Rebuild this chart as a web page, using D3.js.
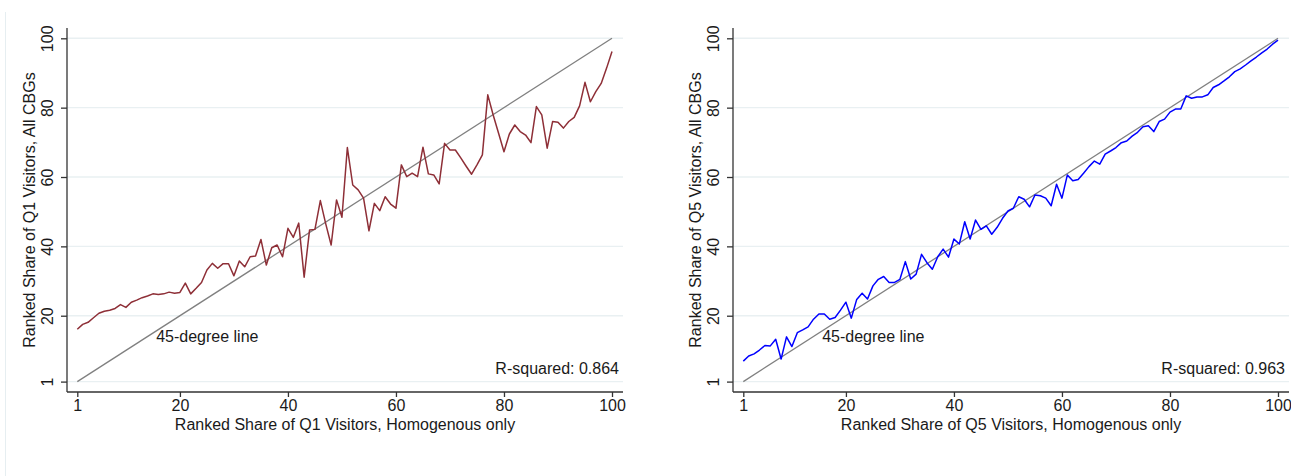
<!DOCTYPE html>
<html lang="en">

<head>
    <meta charset="UTF-8">
    <title>Ranked share of visitors: Q1 and Q5</title>
    <style>
        body {
            margin: 0;
            background: #ffffff;
        }

        text {
            font-family: "Liberation Sans", Arial, sans-serif;
            fill: #1a1a1a;
        }
    </style>
    <script src="https://cdn.jsdelivr.net/npm/d3@7"></script>
</head>

<body>
</body>

<script>
    // Tick labels shared by both panels (x and y)
    const tickValues = [1, 20, 40, 60, 80, 100];

    // Ranked share of Q1 visitors, all CBGs (rank 1..100 on x)
    const q1Values = [
        16.1, 17.5, 18.1, 19.4, 20.7, 21.3, 21.6, 22.1, 23.2, 22.4,
        23.9, 24.5, 25.2, 25.7, 26.3, 26.1, 26.3, 26.8, 26.5, 26.7,
        29.4, 26.3, 27.9, 29.6, 33.2, 35.1, 33.7, 35.0, 35.0, 31.5,
        35.8, 34.1, 37.0, 37.2, 42.0, 34.6, 39.6, 40.4, 37.0, 45.2,
        42.6, 46.7, 31.1, 44.7, 44.9, 53.2, 46.5, 40.4, 53.4, 48.4,
        68.5, 57.7, 56.3, 53.9, 44.5, 52.4, 50.3, 54.3, 52.2, 51.0,
        63.5, 60.1, 61.1, 60.1, 68.6, 60.9, 60.6, 58.0, 69.7, 67.8,
        67.8, 65.5, 63.1, 60.8, 63.5, 66.4, 83.7, 77.9, 72.6, 67.3,
        72.4, 75.0, 73.1, 72.1, 69.9, 80.3, 77.9, 68.3, 76.0, 75.8,
        74.1, 76.0, 77.2, 80.5, 87.3, 81.7, 84.6, 87.0, 91.4, 96.2
    ];

    // Ranked share of Q5 visitors, all CBGs
    const q5Values = [
        6.9, 8.4, 9.0, 10.1, 11.4, 11.3, 13.2, 7.5, 13.9, 11.1,
        15.1, 15.9, 16.8, 19.0, 20.5, 20.5, 19.0, 19.5, 21.6, 23.9,
        19.3, 24.7, 26.5, 24.8, 28.6, 30.5, 31.3, 29.6, 29.6, 30.5,
        35.6, 30.6, 32.0, 37.7, 35.3, 33.4, 37.0, 39.2, 36.9, 42.1,
        40.7, 47.1, 42.1, 47.6, 44.9, 45.9, 43.5, 45.5, 48.1, 50.2,
        51.0, 54.3, 53.6, 51.4, 54.8, 54.6, 53.9, 51.7, 57.9, 53.9,
        60.6, 58.9, 59.3, 61.1, 63.0, 64.6, 63.7, 66.6, 67.5, 68.5,
        69.9, 70.4, 71.8, 72.9, 74.5, 74.8, 73.1, 76.0, 76.7, 78.7,
        79.6, 79.6, 83.4, 82.7, 83.1, 83.1, 83.7, 85.8, 86.6, 87.7,
        88.9, 90.4, 91.2, 92.3, 93.5, 94.6, 95.8, 96.9, 98.3, 99.5
    ];

    // Panel labels
    const quintiles = ["Q1", "Q5"];
    const rSquared = ["0.864", "0.963"];
    const lineColors = ["#8e2f37", "#0000ff"];
    const seriesList = [q1Values, q5Values];

    const size = {
        width: 1291,
        height: 476,
        panelShift: 666
    };

    // plot region of one panel (left panel coordinates)
    const plot = { left: 67, right: 623, top: 28, bottom: 392 };
    const fontSize = "16px";

    const svg = d3.select("body").append("svg")
        .attr("width", size.width)
        .attr("height", size.height);

    // faint outer edge of the graph region
    svg.append("line")
        .attr("x1", 5.5).attr("x2", 5.5)
        .attr("y1", 12).attr("y2", size.height)
        .attr("stroke", "#e6eef1")
        .attr("stroke-width", 1);

    const xScale = d3.scaleLinear().domain([1, 100]).range([77.3, 612]);
    const yScale = d3.scaleLinear().domain([1, 100]).range([381.6, 38.3]);

    quintiles.forEach((q, p) => {
        const g = svg.append("g")
            .attr("transform", `translate(${p * size.panelShift}, 0)`);
        const values = seriesList[p];

        // horizontal gridlines
        g.append("g")
            .selectAll("line")
            .data(tickValues)
            .join("line")
            .attr("x1", plot.left)
            .attr("x2", plot.right)
            .attr("y1", d => yScale(d))
            .attr("y2", d => yScale(d))
            .attr("stroke", "#e9f0f2")
            .attr("stroke-width", 1.4);

        // x axis
        const xAxis = d3.axisBottom(xScale)
            .tickValues(tickValues)
            .tickSize(5)
            .tickPadding(3)
            .tickFormat(d3.format("d"));
        const xg = g.append("g")
            .attr("transform", `translate(0, ${plot.bottom})`)
            .call(xAxis);
        xg.select(".domain")
            .attr("d", `M${plot.left},0H${plot.right}`);

        // y axis (rotated labels)
        const yAxis = d3.axisLeft(yScale)
            .tickValues(tickValues)
            .tickSize(6)
            .tickFormat(d3.format("d"));
        const yg = g.append("g")
            .attr("transform", `translate(${plot.left}, 0)`)
            .call(yAxis);
        yg.select(".domain")
            .attr("d", `M0,${plot.top}V${plot.bottom}`);
        yg.selectAll(".tick text")
            .attr("x", null)
            .attr("dy", null)
            .attr("transform", "translate(-14, 0) rotate(-90)")
            .attr("text-anchor", "middle");

        [xg, yg].forEach(ax => {
            ax.selectAll(".domain, .tick line")
                .attr("stroke", "#333333")
                .attr("stroke-width", 1.3);
            ax.selectAll(".tick text")
                .style("font-size", fontSize)
                .attr("fill", "#1a1a1a");
        });

        // 45-degree reference line
        g.append("line")
            .attr("x1", xScale(1)).attr("y1", yScale(1))
            .attr("x2", xScale(100)).attr("y2", yScale(100))
            .attr("stroke", "#808080")
            .attr("stroke-width", 1.3);

        // ranked share line
        const line = d3.line()
            .x((d, i) => xScale(i + 1))
            .y(d => yScale(d));
        g.append("path")
            .datum(values)
            .attr("d", line)
            .attr("fill", "none")
            .attr("stroke", lineColors[p])
            .attr("stroke-width", 1.5)
            .attr("stroke-linejoin", "round");

        // labels
        g.append("text")
            .attr("x", xScale(15.6))
            .attr("y", yScale(12.5))
            .style("font-size", fontSize)
            .text("45-degree line");

        g.append("text")
            .attr("x", plot.right - 4)
            .attr("y", 374)
            .attr("text-anchor", "end")
            .style("font-size", fontSize)
            .text(`R-squared: ${rSquared[p]}`);

        g.append("text")
            .attr("x", (plot.left + plot.right) / 2)
            .attr("y", 430)
            .attr("text-anchor", "middle")
            .style("font-size", fontSize)
            .text(`Ranked Share of ${q} Visitors, Homogenous only`);

        g.append("text")
            .attr("transform", `translate(35, ${(plot.top + plot.bottom) / 2}) rotate(-90)`)
            .attr("text-anchor", "middle")
            .style("font-size", fontSize)
            .text(`Ranked Share of ${q} Visitors, All CBGs`);
    });
</script>

</html>
